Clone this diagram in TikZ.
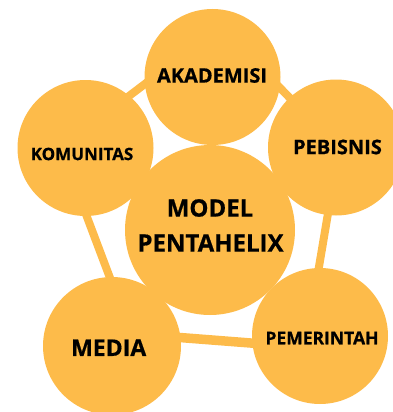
\documentclass[tikz,border=0pt]{standalone}
\usepackage{fontspec}
\setmainfont{Open Sans}[BoldFeatures={FakeBold=0.6}]
\usetikzlibrary{backgrounds}
\begin{document}
\definecolor{helix}{RGB}{253,187,74}
\begin{tikzpicture}[x=1pt,y=-1pt,
  disc/.style={circle,fill=helix,draw=none,inner sep=0pt,minimum size=#1},
  caption/.style={inner sep=0pt,font=\bfseries\fontsize{#1}{#1}\selectfont,text=black},
  link/.style={draw=helix,line width=8pt,shorten <=-5pt,shorten >=-5pt}]
\useasboundingbox (0,0) rectangle (393,412);
% outer actors and the central model
\node[disc=136pt] (aka) at (212.5,77) {};
\node[disc=136pt] (kom) at (85.5,148) {};
\node[disc=136pt] (peb) at (336,147.5) {};
\node[disc=138pt] (med) at (112,346) {};
\node[disc=136pt] (pem) at (320,336) {};
\node[disc=170pt] (mod) at (210,230) {};
% connectors running behind the discs
\begin{pgfonlayer}{background}
\path[link] (kom.50) -- (aka.-174);
\path[link] (aka.-9) -- (peb.133);
\path[link] (peb.-97) -- (pem.91);
\path[link,line width=9.5pt] (med.7) -- (pem.186);
\path[link] (kom.-89) -- (med.92);
\end{pgfonlayer}
% labels
\node[caption=20] (taka) at (212,75.5) {AKADEMISI};
\node[caption=17] (tkom) at (82,154) {KOMUNITAS};
\node[caption=20] (tpeb) at (337.5,147) {PEBISNIS};
\node[caption=24] (tmod1) at (210,208) {MODEL};
\node[caption=24] (tmod2) at (210.5,243) {PENTAHELIX};
\node[caption=23] (tmed) at (108.7,347.7) {MEDIA};
\node[caption=17.5] (tpem) at (322,338) {PEMERINTAH};
\end{tikzpicture}
\end{document}
